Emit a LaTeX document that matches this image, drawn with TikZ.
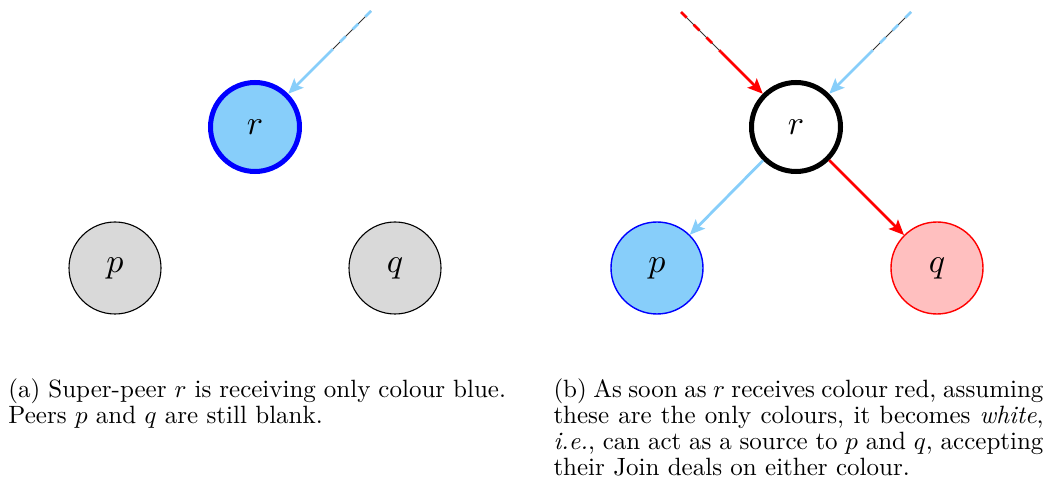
\RequirePackage{fix-cm}
\documentclass[tikz,border=0pt]{standalone}
\usetikzlibrary{arrows.meta}
\definecolor{skyb}{RGB}{135,206,250}
\newcommand{\lbl}[1]{\scalebox{3.4}{$#1$}}
\tikzset{
  peer/.style={circle, inner sep=0pt, minimum size=92pt, line width=1.1pt, draw=black},
  super/.style={circle, inner sep=0pt, minimum size=89pt, line width=5pt},
  flow/.style={line width=2.8pt, -{Stealth[length=15pt,width=13pt,inset=3pt]}},
  dashin/.style={line width=2.8pt, dash pattern=on 8pt off 10pt},
  feed/.style={line width=1pt, black!80},
  captext/.style={anchor=north west, inner sep=0pt, align=justify, scale=2.5,
    font=\fontsize{10}{10.5}\selectfont}
}
\begin{document}
\begin{tikzpicture}[x=1pt,y=-1pt]
\useasboundingbox (0,0) rectangle (1047,486);
% (a)
\node[super, draw=blue, fill=skyb] (rA) at (255,127) {\lbl{r}};
\node[peer, fill=gray!30] (pA) at (115,268) {\lbl{p}};
\node[peer, fill=gray!30] (qA) at (395,268) {\lbl{q}};
\coordinate (sA) at (371,11);
\coordinate (mA) at (331,51);
\draw[feed] (sA) -- (mA);
\draw[dashin, skyb] (sA) -- (mA);
\draw[flow, skyb] (mA) -- (rA);
% (b)
\node[super, draw=black, fill=white] (rB) at (796,127) {\lbl{r}};
\node[peer, draw=blue, line width=1.4pt, fill=skyb] (pB) at (657,268) {\lbl{p}};
\node[peer, draw=red, line width=1.4pt, fill=red!25] (qB) at (937,268) {\lbl{q}};
\coordinate (sR) at (681,12);
\coordinate (mR) at (721,52);
\draw[feed] (sR) -- (mR);
\draw[dashin, red] (sR) -- (mR);
\draw[flow, red] (mR) -- (rB);
\coordinate (sB) at (911,12);
\coordinate (mB) at (871,52);
\draw[feed] (sB) -- (mB);
\draw[dashin, skyb] (sB) -- (mB);
\draw[flow, skyb] (mB) -- (rB);
\draw[flow, skyb] (rB) -- (pB);
\draw[flow, red] (rB) -- (qB);
% captions
\node[captext, text width=199pt] (capA) at (8,378) {(a) Super-peer $r$ is receiving only colour blue. Peers $p$ and $q$ are still blank.};
\node[captext, text width=196pt] (capB) at (553,378) {(b) As soon as $r$ receives colour red, assuming these are the only colours, it becomes \emph{white}, \emph{i.e.}, can act as a source to $p$ and $q$, accepting their Join deals on either colour.};
\end{tikzpicture}
\end{document}
